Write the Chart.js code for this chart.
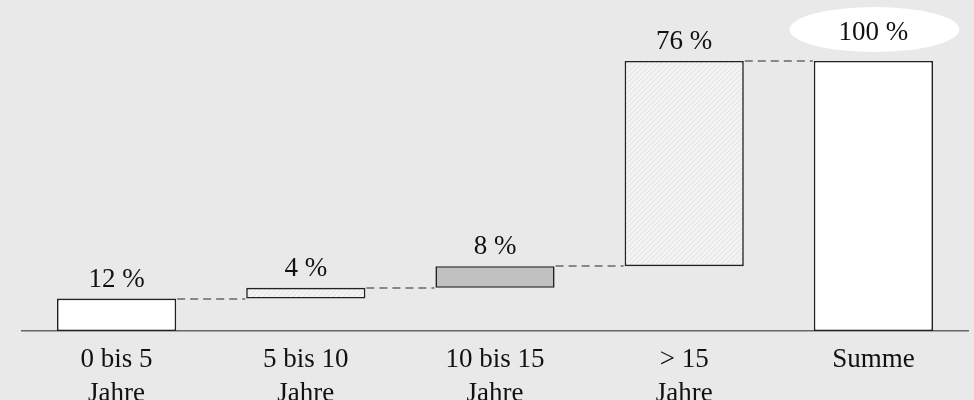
<!DOCTYPE html>
<html>
<head>
<meta charset="utf-8">
<script src="https://cdn.jsdelivr.net/npm/chart.js@4.4.1/dist/chart.umd.min.js"></script>
<style>
  body { margin: 0; background: #e9e9e9; }
  #wrap { width: 974px; height: 400px; }
</style>
</head>
<body>
<div id="wrap"><canvas id="grafica"></canvas></div>
<script>
// Daten
const kategorien = [['0 bis 5', 'Jahre'], ['5 bis 10', 'Jahre'], ['10 bis 15', 'Jahre'], ['> 15', 'Jahre'], 'Summe'];
const anteile = [12, 4, 8, 76];
const summe = 100;
const beschriftungen = ['12 %', '4 %', '8 %', '76 %', '100 %'];

const schrift = '"Liberation Serif", "Times New Roman", serif';

// Schraffur für helle Balken
function schraffur() {
  const c = document.createElement('canvas');
  c.width = 5; c.height = 5;
  const g = c.getContext('2d');
  g.fillStyle = '#f3f3f3';
  g.fillRect(0, 0, 5, 5);
  g.strokeStyle = '#e0e0e0';
  g.lineWidth = 1;
  g.beginPath();
  g.moveTo(0, 5); g.lineTo(5, 0);
  g.moveTo(-2.5, 2.5); g.lineTo(2.5, -2.5);
  g.moveTo(2.5, 7.5); g.lineTo(7.5, 2.5);
  g.stroke();
  return g.createPattern(c, 'repeat');
}
const muster = schraffur();

// schwebende Balken aufbauen
let start = 0;
const balken = anteile.map((v) => {
  const b = [start, start + v];
  start += v;
  return b;
});
balken.push([0, summe]);

const farben = ['#ffffff', muster, '#c0c0c0', muster, '#ffffff'];

const zusatz = {
  id: 'zusatz',
  beforeDraw(chart) {
    const ctx = chart.ctx;
    ctx.save();
    ctx.fillStyle = '#e9e9e9';
    ctx.fillRect(0, 0, chart.width, chart.height);
    ctx.restore();
  },
  afterDatasetsDraw(chart) {
    const ctx = chart.ctx;
    const meta = chart.getDatasetMeta(0);
    const y = chart.scales.y;
    ctx.save();
    // Verbindungslinien
    ctx.strokeStyle = '#888888';
    ctx.lineWidth = 2;
    ctx.setLineDash([8, 5]);
    for (let i = 0; i < meta.data.length - 1; i++) {
      const a = meta.data[i];
      const b = meta.data[i + 1];
      const yy = Math.round(y.getPixelForValue(balken[i][1]));
      ctx.beginPath();
      ctx.moveTo(a.x + a.width / 2 + 1, yy);
      ctx.lineTo(b.x - b.width / 2 - 1, yy);
      ctx.stroke();
    }
    ctx.setLineDash([]);
    // Werte
    ctx.font = '27px ' + schrift;
    ctx.fillStyle = '#111';
    ctx.textAlign = 'center';
    ctx.textBaseline = 'alphabetic';
    meta.data.forEach((bar, i) => {
      const oben = y.getPixelForValue(balken[i][1]);
      if (i === meta.data.length - 1) {
        ctx.fillStyle = '#ffffff';
        ctx.beginPath();
        ctx.ellipse(bar.x + 1, 29.5, 85, 22.5, 0, 0, Math.PI * 2);
        ctx.fill();
        ctx.fillStyle = '#111';
        ctx.fillText(beschriftungen[i], bar.x, oben - 21);
      } else {
        ctx.fillText(beschriftungen[i], bar.x, oben - 12);
      }
    });
    ctx.restore();
  }
};

new Chart(document.getElementById('grafica'), {
  type: 'bar',
  data: {
    labels: kategorien,
    datasets: [{
      data: balken,
      backgroundColor: farben,
      borderColor: '#222222',
      borderWidth: 1.6,
      borderSkipped: false,
      categoryPercentage: 1,
      barPercentage: 0.63
    }]
  },
  options: {
    responsive: true,
    maintainAspectRatio: false,
    animation: false,
    layout: { padding: { top: 61, left: 22, right: 6, bottom: 0 } },
    plugins: {
      legend: { display: false },
      tooltip: { enabled: false }
    },
    scales: {
      x: {
        grid: { display: false, drawTicks: false },
        border: { display: true, color: '#666666', width: 1.5 },
        ticks: {
          color: '#111',
          padding: 12,
          font: { family: schrift, size: 27, lineHeight: 1.25 }
        },
        afterFit: (scale) => { scale.height = 69; }
      },
      y: {
        display: false,
        min: 0,
        max: 100
      }
    }
  },
  plugins: [zusatz]
});
</script>
</body>
</html>
